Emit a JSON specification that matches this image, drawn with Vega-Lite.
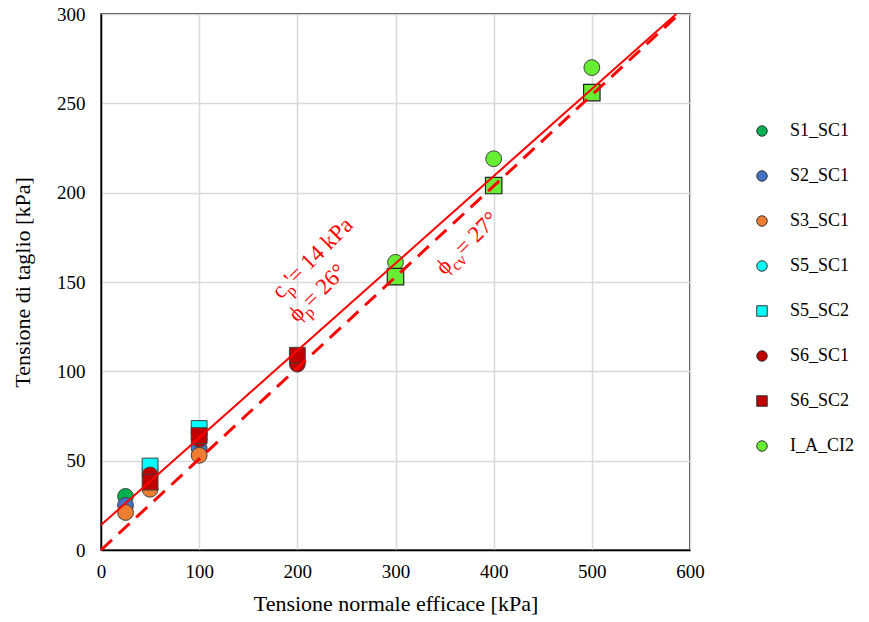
{
  "$schema": "https://vega.github.io/schema/vega-lite/v6.json",
  "width": 589,
  "height": 536,
  "autosize": {"type": "none"},
  "padding": {"left": 101, "top": 14, "right": 179, "bottom": 72},
  "background": "white",
  "config": {
    "view": {"stroke": "#000000", "strokeWidth": 1.5},
    "font": "Liberation Serif",
    "axis": {
      "grid": true,
      "gridColor": "#D9D9D9",
      "gridWidth": 1.5,
      "domainColor": "#000000",
      "domainWidth": 1.5,
      "ticks": false,
      "labelFlush": false,
      "labelFontSize": 19,
      "labelColor": "#000000",
      "titleFontSize": 22,
      "titleFontWeight": "normal",
      "titleColor": "#000000",
      "labelFont": "Liberation Serif",
      "titleFont": "Liberation Serif"
    },
    "legend": {
      "orient": "none",
      "legendX": 652,
      "legendY": 108,
      "labelFontSize": 18,
      "labelFont": "Liberation Serif",
      "labelColor": "#000000",
      "symbolSize": 110,
      "symbolStrokeColor": "#333333",
      "symbolStrokeWidth": 1,
      "rowPadding": 27,
      "labelOffset": 19
    }
  },
  "layer": [
    {
      "data": {
        "values": [
          {"sigma": 25, "tau": 30, "series": "S1_SC1"},
          {"sigma": 25, "tau": 25, "series": "S2_SC1"},
          {"sigma": 100, "tau": 57, "series": "S2_SC1"},
          {"sigma": 25, "tau": 21, "series": "S3_SC1"},
          {"sigma": 50, "tau": 34, "series": "S3_SC1"},
          {"sigma": 100, "tau": 53, "series": "S3_SC1"},
          {"sigma": 50, "tau": 45, "series": "S5_SC1"},
          {"sigma": 100, "tau": 66, "series": "S5_SC1"},
          {"sigma": 50, "tau": 47, "series": "S5_SC2"},
          {"sigma": 100, "tau": 68, "series": "S5_SC2"},
          {"sigma": 50, "tau": 42, "series": "S6_SC1"},
          {"sigma": 100, "tau": 62, "series": "S6_SC1"},
          {"sigma": 200, "tau": 104, "series": "S6_SC1"},
          {"sigma": 50, "tau": 38, "series": "S6_SC2"},
          {"sigma": 100, "tau": 64, "series": "S6_SC2"},
          {"sigma": 200, "tau": 109, "series": "S6_SC2"},
          {"sigma": 300, "tau": 161, "series": "I_A_CI2"},
          {"sigma": 400, "tau": 219, "series": "I_A_CI2"},
          {"sigma": 500, "tau": 270, "series": "I_A_CI2"}
        ]
      },
      "mark": {"type": "point", "filled": true, "opacity": 1, "stroke": "#404040", "strokeWidth": 1, "size": 250},
      "encoding": {
        "x": {"field": "sigma", "type": "quantitative", "scale": {"domain": [0, 600], "nice": false}, "axis": {"title": "Tensione normale efficace [kPa]", "values": [0, 100, 200, 300, 400, 500, 600], "labelPadding": 12, "titlePadding": 12}},
        "y": {"field": "tau", "type": "quantitative", "scale": {"domain": [0, 300], "nice": false}, "axis": {"title": "Tensione di taglio [kPa]", "values": [0, 50, 100, 150, 200, 250, 300], "labelPadding": 16, "titlePadding": 22}},
        "color": {
          "field": "series", "type": "nominal", "title": null,
          "scale": {
            "domain": ["S1_SC1", "S2_SC1", "S3_SC1", "S5_SC1", "S5_SC2", "S6_SC1", "S6_SC2", "I_A_CI2"],
            "range": ["#00B050", "#4472C4", "#ED7D31", "#00FFFF", "#00FFFF", "#C00000", "#C00000", "#66EE33"]
          }
        },
        "shape": {
          "field": "series", "type": "nominal", "title": null,
          "scale": {
            "domain": ["S1_SC1", "S2_SC1", "S3_SC1", "S5_SC1", "S5_SC2", "S6_SC1", "S6_SC2", "I_A_CI2"],
            "range": ["circle", "circle", "circle", "circle", "square", "circle", "square", "circle"]
          }
        }
      }
    },
    {
      "data": {
        "values": [
          {"sigma": 300, "tau": 153},
          {"sigma": 400, "tau": 204},
          {"sigma": 500, "tau": 256}
        ]
      },
      "mark": {"type": "point", "shape": "square", "filled": true, "opacity": 1, "color": "#66EE33", "stroke": "#222222", "strokeWidth": 1.2, "size": 270},
      "encoding": {
        "x": {"field": "sigma", "type": "quantitative"},
        "y": {"field": "tau", "type": "quantitative"}
      }
    },
    {
      "data": {"values": [{"sigma": 0, "tau": 14}, {"sigma": 586, "tau": 300}]},
      "mark": {"type": "line", "color": "#FF0000", "strokeWidth": 2},
      "encoding": {
        "x": {"field": "sigma", "type": "quantitative"},
        "y": {"field": "tau", "type": "quantitative"}
      }
    },
    {
      "data": {"values": [{"sigma": 0, "tau": 0}, {"sigma": 589, "tau": 300}]},
      "mark": {"type": "line", "color": "#FF0000", "strokeWidth": 3, "strokeDash": [15, 9]},
      "encoding": {
        "x": {"field": "sigma", "type": "quantitative"},
        "y": {"field": "tau", "type": "quantitative"}
      }
    },
    {
      "data": {"values": [
        {"sigma": 183, "tau": 140, "label": "c"},
        {"sigma": 200, "tau": 127, "label": "ϕ"},
        {"sigma": 350, "tau": 153.5, "label": "ϕ"}
      ]},
      "mark": {"type": "text", "color": "#FF0000", "fontSize": 23, "angle": 315, "align": "left", "baseline": "alphabetic"},
      "encoding": {
        "x": {"field": "sigma", "type": "quantitative"},
        "y": {"field": "tau", "type": "quantitative"},
        "text": {"field": "label"}
      }
    },
    {
      "data": {"values": [{"sigma": 183, "tau": 140, "label": "p"}]},
      "mark": {"type": "text", "color": "#FF0000", "fontSize": 16, "angle": 315, "align": "left", "baseline": "alphabetic", "dx": 10, "dy": 6},
      "encoding": {
        "x": {"field": "sigma", "type": "quantitative"},
        "y": {"field": "tau", "type": "quantitative"},
        "text": {"field": "label"}
      }
    },
    {
      "data": {"values": [{"sigma": 183, "tau": 140, "label": "'= 14 kPa"}]},
      "mark": {"type": "text", "color": "#FF0000", "fontSize": 23, "angle": 315, "align": "left", "baseline": "alphabetic", "dx": 18},
      "encoding": {
        "x": {"field": "sigma", "type": "quantitative"},
        "y": {"field": "tau", "type": "quantitative"},
        "text": {"field": "label"}
      }
    },
    {
      "data": {"values": [
        {"sigma": 200, "tau": 127, "label": "p"},
        {"sigma": 350, "tau": 153.5, "label": "cv"}
      ]},
      "mark": {"type": "text", "color": "#FF0000", "fontSize": 16, "angle": 315, "align": "left", "baseline": "alphabetic", "dx": 12, "dy": 6},
      "encoding": {
        "x": {"field": "sigma", "type": "quantitative"},
        "y": {"field": "tau", "type": "quantitative"},
        "text": {"field": "label"}
      }
    },
    {
      "data": {"values": [{"sigma": 200, "tau": 127, "label": "= 26°"}]},
      "mark": {"type": "text", "color": "#FF0000", "fontSize": 23, "angle": 315, "align": "left", "baseline": "alphabetic", "dx": 20},
      "encoding": {
        "x": {"field": "sigma", "type": "quantitative"},
        "y": {"field": "tau", "type": "quantitative"},
        "text": {"field": "label"}
      }
    },
    {
      "data": {"values": [{"sigma": 350, "tau": 153.5, "label": "= 27°"}]},
      "mark": {"type": "text", "color": "#FF0000", "fontSize": 23, "angle": 315, "align": "left", "baseline": "alphabetic", "dx": 27},
      "encoding": {
        "x": {"field": "sigma", "type": "quantitative"},
        "y": {"field": "tau", "type": "quantitative"},
        "text": {"field": "label"}
      }
    }
  ]
}
